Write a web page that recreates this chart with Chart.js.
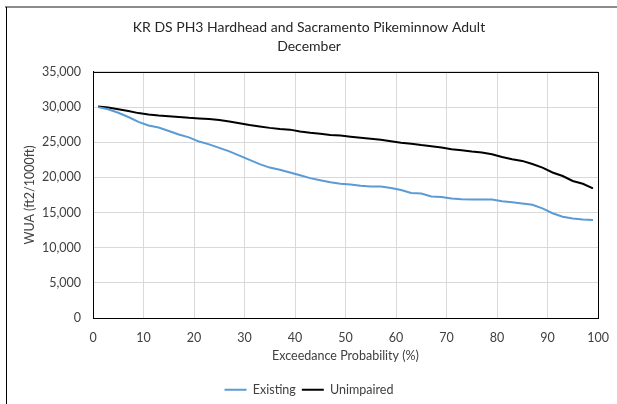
<!DOCTYPE html>
<html>
<head>
<meta charset="utf-8">
<script src="https://cdn.jsdelivr.net/npm/chart.js@4/dist/chart.umd.min.js"></script>
<style>
  html, body { margin: 0; padding: 0; background: #fff; }
  #chart { display: block; }
</style>
</head>
<body>
<canvas id="chart" width="617" height="404"></canvas>
<script>
// exceedance probability (%) for each point
const probability = [1, 3, 5, 7, 9, 11, 13, 15, 17, 19, 21, 23, 25, 27, 29, 31, 33, 35, 37, 39,
  41, 43, 45, 47, 49, 51, 53, 55, 57, 59, 61, 63, 65, 67, 69, 71, 73, 75, 77, 79,
  81, 83, 85, 87, 89, 91, 93, 95, 97, 99];

const existing = [30000, 29700, 29200, 28600, 27900, 27400, 27100, 26600, 26100, 25700,
  25100, 24700, 24200, 23700, 23100, 22500, 21900, 21400, 21100, 20700,
  20300, 19900, 19600, 19300, 19100, 19000, 18800, 18700, 18700, 18500,
  18200, 17800, 17700, 17300, 17200, 17000, 16900, 16860, 16860, 16860,
  16600, 16470, 16300, 16100, 15600, 14900, 14400, 14150, 14000, 13950];

const unimpaired = [30100, 29950, 29700, 29450, 29150, 28950, 28800, 28700, 28600, 28480,
  28400, 28300, 28170, 27950, 27700, 27450, 27250, 27050, 26900, 26800,
  26550, 26350, 26200, 26050, 25950, 25800, 25650, 25500, 25350, 25150,
  24950, 24800, 24600, 24450, 24250, 24000, 23850, 23680, 23550, 23300,
  22900, 22600, 22350, 21900, 21400, 20700, 20200, 19500, 19100, 18450];

const titleLines = ['KR DS PH3 Hardhead and Sacramento Pikeminnow Adult', 'December'];
const seriesNames = ['Existing', 'Unimpaired'];

function toPoints(ys) {
  return probability.map((x, i) => ({ x: x, y: ys[i] }));
}

const fontFamily = 'Lato, "Liberation Sans", sans-serif';
const textColor = '#404040';

// frame around the chart plus the plot area box
const framePlugin = {
  id: 'frame',
  afterDraw(chart) {
    const ctx = chart.ctx;
    const a = chart.chartArea;
    ctx.save();
    ctx.strokeStyle = '#8c8c8c';
    ctx.lineWidth = 2;
    ctx.beginPath();
    ctx.moveTo(5, 7);
    ctx.lineTo(617, 7);
    ctx.stroke();
    ctx.strokeStyle = '#000';
    ctx.lineWidth = 1;
    ctx.beginPath();
    ctx.moveTo(6.5, 7);
    ctx.lineTo(6.5, 404);
    ctx.stroke();
    ctx.strokeRect(Math.round(a.left) + 0.5, Math.round(a.top) + 0.5,
      Math.round(a.right - a.left), Math.round(a.bottom - a.top));
    ctx.restore();
  }
};

new Chart(document.getElementById('chart'), {
  type: 'line',
  data: {
    datasets: [
      {
        label: seriesNames[0],
        data: toPoints(existing),
        borderColor: '#5b9bd5',
        backgroundColor: '#5b9bd5',
        borderWidth: 2,
        pointRadius: 0,
        tension: 0
      },
      {
        label: seriesNames[1],
        data: toPoints(unimpaired),
        borderColor: '#000000',
        backgroundColor: '#000000',
        borderWidth: 2,
        pointRadius: 0,
        tension: 0
      }
    ]
  },
  options: {
    responsive: false,
    animation: false,
    layout: { padding: { left: 20, right: 19, top: 0, bottom: -2 } },
    plugins: {
      title: {
        display: true,
        text: titleLines,
        color: '#262626',
        font: { family: fontFamily, size: 14, weight: 'normal', lineHeight: 1.357 },
        padding: { top: 17.5, bottom: 16.5 }
      },
      legend: {
        position: 'bottom',
        labels: {
          usePointStyle: true,
          pointStyle: 'line',
          pointStyleWidth: 22,
          color: textColor,
          font: { family: fontFamily, size: 12.5 },
          padding: 6
        }
      },
      tooltip: { enabled: false }
    },
    scales: {
      x: {
        type: 'linear',
        min: 0,
        max: 100,
        ticks: {
          stepSize: 10,
          maxRotation: 0,
          color: textColor,
          font: { family: fontFamily, size: 12.5 },
          padding: 12
        },
        grid: { color: '#d9d9d9', drawTicks: false },
        border: { color: '#000' },
        title: {
          display: true,
          text: 'Exceedance Probability (%)',
          color: textColor,
          font: { family: fontFamily, size: 12.5 },
          padding: { top: 0, bottom: 14 }
        },
        afterFit(scale) {
          scale.height = 59.5;
          scale.paddingLeft = 0;
          scale.paddingRight = 0;
        }
      },
      y: {
        min: 0,
        max: 35000,
        ticks: {
          stepSize: 5000,
          color: textColor,
          font: { family: fontFamily, size: 12.5 },
          padding: 12,
          callback: v => v.toLocaleString('en-US')
        },
        grid: { color: '#d9d9d9', drawTicks: false },
        border: { color: '#000' },
        title: {
          display: true,
          text: 'WUA (ft2/1000ft)',
          color: textColor,
          font: { family: fontFamily, size: 12.5 },
          padding: { top: 2, bottom: 0 }
        },
        afterFit(scale) { scale.width = 73; }
      }
    }
  },
  plugins: [framePlugin]
});
</script>
</body>
</html>
